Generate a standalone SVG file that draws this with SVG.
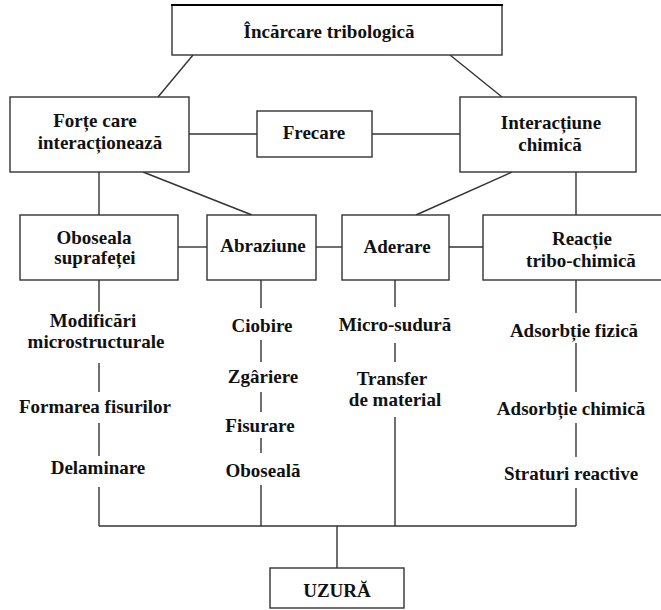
<svg xmlns="http://www.w3.org/2000/svg" width="661" height="610" viewBox="0 0 661 610">
<style>
.box{fill:#fff;stroke:#333;stroke-width:1.4}
.c line{stroke:#333;stroke-width:1.4}
.t text{font-weight:bold;font-size:19px;fill:#111;text-anchor:middle}
</style>
<rect width="661" height="610" fill="#fff"/>
<g class="c" id="connectors">
<line x1="193" y1="55" x2="158" y2="97"/>
<line x1="450" y1="55" x2="502" y2="97"/>
<line x1="189" y1="134" x2="257" y2="134"/>
<line x1="372" y1="134" x2="460" y2="134"/>
<line x1="99" y1="172" x2="99" y2="215"/>
<line x1="143" y1="172" x2="252" y2="215"/>
<line x1="512" y1="172" x2="416" y2="215"/>
<line x1="576" y1="172" x2="576" y2="215"/>
<line x1="178" y1="247" x2="207" y2="247"/>
<line x1="316" y1="247" x2="342" y2="247"/>
<line x1="449" y1="247" x2="483" y2="247"/>
<line x1="99" y1="280" x2="99" y2="312"/>
<line x1="99" y1="363" x2="99" y2="392"/>
<line x1="99" y1="423" x2="99" y2="456"/>
<line x1="99" y1="487" x2="99" y2="526"/>
<line x1="261" y1="280" x2="261" y2="308"/>
<line x1="261" y1="340" x2="261" y2="362"/>
<line x1="261" y1="392" x2="261" y2="412"/>
<line x1="261" y1="438" x2="261" y2="453"/>
<line x1="261" y1="485" x2="261" y2="526"/>
<line x1="395" y1="280" x2="395" y2="307"/>
<line x1="395" y1="343" x2="395" y2="362"/>
<line x1="395" y1="417" x2="395" y2="526"/>
<line x1="576" y1="280" x2="576" y2="313"/>
<line x1="576" y1="343" x2="576" y2="392"/>
<line x1="576" y1="423" x2="576" y2="457"/>
<line x1="576" y1="488" x2="576" y2="526"/>
<line x1="99" y1="526" x2="576" y2="526"/>
<line x1="337" y1="526" x2="337" y2="568"/>
</g>
<g class="t" font-family="Liberation Serif, Times New Roman, DejaVu Serif, serif">
<g id="incarcare"><rect class="box" x="172" y="5" width="330" height="50"/><line x1="171" y1="5" x2="503" y2="5" stroke="#000" stroke-width="2.2"/><text x="329" y="38">Încărcare tribologică</text></g>
<g id="forte"><rect class="box" x="10" y="97" width="179" height="75"/><text x="95" y="127">Forțe care</text><text x="100" y="149">interacționează</text></g>
<g id="frecare"><rect class="box" x="257" y="111" width="115" height="46"/><text x="314" y="139">Frecare</text></g>
<g id="interactiune"><rect class="box" x="460" y="97" width="176" height="75"/><text x="551" y="129">Interacțiune</text><text x="550" y="151">chimică</text></g>
<g id="oboseala"><rect class="box" x="20" y="215" width="158" height="65"/><text x="94" y="244">Oboseala</text><text x="95" y="264">suprafeței</text></g>
<g id="abraziune"><rect class="box" x="207" y="215" width="109" height="65"/><text x="263" y="252">Abraziune</text></g>
<g id="aderare"><rect class="box" x="342" y="215" width="107" height="65"/><text x="397" y="253">Aderare</text></g>
<g id="reactie"><rect class="box" x="483" y="215" width="185" height="65"/><text x="582" y="245">Reacție</text><text x="581" y="267">tribo-chimică</text></g>
<g id="modificari"><text x="93" y="327">Modificări</text><text x="96" y="348">microstructurale</text></g>
<g id="formarea"><text x="95" y="413">Formarea fisurilor</text></g>
<g id="delaminare"><text x="98" y="474">Delaminare</text></g>
<g id="ciobire"><text x="262" y="332">Ciobire</text></g>
<g id="zgariere"><text x="263" y="383">Zgâriere</text></g>
<g id="fisurare"><text x="260" y="432">Fisurare</text></g>
<g id="oboseala2"><text x="263" y="477">Oboseală</text></g>
<g id="microsudura"><text x="395" y="331">Micro-sudură</text></g>
<g id="transfer"><text x="392" y="385">Transfer</text><text x="395" y="406">de material</text></g>
<g id="adsfizica"><text x="574" y="337">Adsorbție fizică</text></g>
<g id="adschimica"><text x="571" y="415">Adsorbție chimică</text></g>
<g id="straturi"><text x="571" y="480">Straturi reactive</text></g>
<g id="uzura"><rect class="box" x="270" y="568" width="134" height="40"/><text x="337" y="597">UZURĂ</text></g>
</g>
</svg>
